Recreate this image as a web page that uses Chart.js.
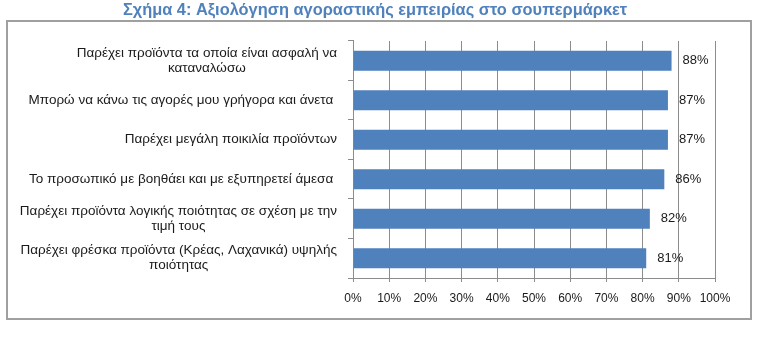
<!DOCTYPE html>
<html lang="el">
<head>
<meta charset="UTF-8">
<title>Σχήμα 4</title>
<script src="https://cdn.jsdelivr.net/npm/chart.js"></script>
<style>
  body { margin: 0; background: #fff; }
</style>
</head>
<body>
<canvas id="myChart" width="767" height="338"></canvas>
<script>
const chartTitle = 'Σχήμα 4: Αξιολόγηση αγοραστικής εμπειρίας στο σουπερμάρκετ';
// each statement is a list of lines, as in the survey sheet
const statements = [
  ['Παρέχει προϊόντα τα οποία είναι ασφαλή να', 'καταναλώσω'],
  ['Μπορώ να κάνω τις αγορές μου γρήγορα και άνετα '],
  ['Παρέχει μεγάλη ποικιλία προϊόντων'],
  ['Το προσωπικό με βοηθάει και με εξυπηρετεί άμεσα '],
  ['Παρέχει προϊόντα λογικής ποιότητας σε σχέση με την', 'τιμή τους'],
  ['Παρέχει φρέσκα προϊόντα (Κρέας, Λαχανικά) υψηλής', 'ποιότητας']
];
const agreePct = [88, 87, 87, 86, 82, 81];

const FONT = '"Liberation Sans", Arial, sans-serif';
const GRID = '#8c8c8c';

// white page, grey frame, statement labels and value labels
const frameAndLabels = {
  id: 'frameAndLabels',
  beforeDraw(chart) {
    const ctx = chart.ctx;
    ctx.save();
    ctx.fillStyle = '#fff';
    ctx.fillRect(0, 0, chart.width, chart.height);
    ctx.strokeStyle = '#a0a0a0';
    ctx.lineWidth = 2;
    ctx.strokeRect(7, 21, 744, 298);
    ctx.restore();
  },
  afterDraw(chart) {
    const ctx = chart.ctx;
    const y = chart.scales.y;
    ctx.save();
    ctx.fillStyle = '#1a1a1a';
    ctx.textBaseline = 'middle';

    // label block sits right against the axis, its lines centred in the block
    ctx.font = '13.5px ' + FONT;
    ctx.textAlign = 'center';
    statements.forEach((lines, i) => {
      const cy = y.getPixelForValue(i);
      const w = Math.max(...lines.map(l => ctx.measureText(l).width));
      const cx = y.right - 16 - w / 2;
      lines.forEach((l, j) => {
        ctx.fillText(l, cx, cy + (j - (lines.length - 1) / 2) * 15);
      });
    });

    ctx.font = '13px ' + FONT;
    ctx.textAlign = 'left';
    chart.getDatasetMeta(0).data.forEach((bar, i) => {
      ctx.fillText(agreePct[i] + '%', bar.x + 11, bar.y);
    });
    ctx.restore();
  }
};

const ctx = document.getElementById('myChart');
new Chart(ctx, {
  type: 'bar',
  data: {
    labels: statements,
    datasets: [{
      data: agreePct,
      backgroundColor: '#4f81bd',
      barPercentage: 0.51,
      categoryPercentage: 1
    }]
  },
  options: {
    indexAxis: 'y',
    responsive: false,
    animation: false,
    layout: { padding: { left: 35, right: 52, top: 0, bottom: 30 } },
    plugins: {
      legend: { display: false },
      tooltip: { enabled: false },
      title: {
        display: true,
        text: chartTitle,
        color: '#4f81bd',
        font: { family: FONT, size: 16.4, weight: 'bold' },
        padding: { top: 1, bottom: 20.3 }
      }
    },
    scales: {
      x: {
        min: 0,
        max: 100,
        ticks: {
          stepSize: 10,
          callback: v => v + '%',
          color: '#1a1a1a',
          font: { family: FONT, size: 12 },
          padding: 9,
          maxRotation: 0
        },
        grid: { color: GRID, tickLength: 4 },
        border: { color: GRID },
        afterFit: s => { s.height = 30; }
      },
      y: {
        ticks: { display: false },
        grid: { offset: true, drawOnChartArea: false, tickLength: 5, color: GRID },
        border: { color: GRID },
        afterFit: s => { s.width = 318; }
      }
    }
  },
  plugins: [frameAndLabels]
});
</script>
</body>
</html>
